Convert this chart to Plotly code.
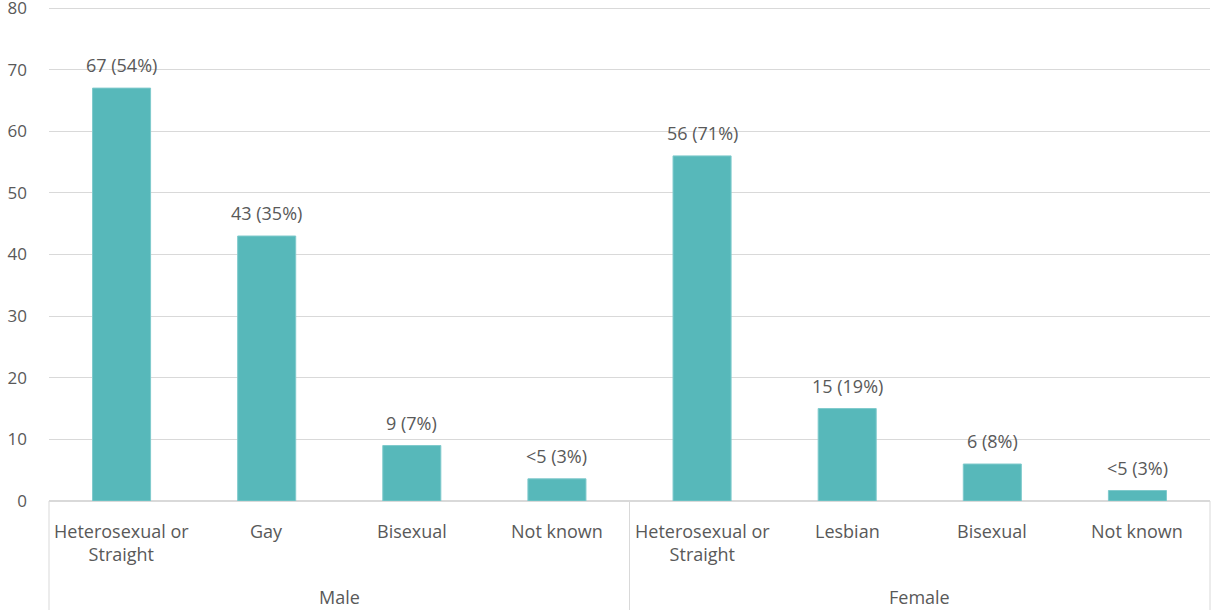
import plotly.graph_objects as go

groups = ["Male", "Female"]
categories = ["Heterosexual or<br>Straight", "Gay", "Bisexual", "Not known",
              "Heterosexual or<br>Straight", "Lesbian", "Bisexual", "Not known"]
group_of = ["Male"] * 4 + ["Female"] * 4
values = [67, 43, 9, 3.6, 56, 15, 6, 1.7]
bar_labels = ["67 (54%)", "43 (35%)", "9 (7%)", "&lt;5 (3%)",
              "56 (71%)", "15 (19%)", "6 (8%)", "&lt;5 (3%)"]
y_ticks = [0, 10, 20, 30, 40, 50, 60, 70, 80]

BAR = "#57B8BA"
TXT = "#595959"
GRID = "#D9D9D9"
FONT = "Open Sans"
FS = 18

x = list(range(len(categories)))

fig = go.Figure()
fig.add_trace(go.Bar(
    x=x, y=values, width=0.4,
    marker=dict(color=BAR, line=dict(color="#7FCACC", width=1)),
    hoverinfo="skip",
))

ann = []
for xi, v, lab in zip(x, values, bar_labels):
    ann.append(dict(x=xi, y=v, xref="x", yref="y", text=lab, showarrow=False,
                    yanchor="bottom", yshift=9,
                    font=dict(family=FONT, size=FS, color=TXT)))
for xi, c in zip(x, categories):
    ann.append(dict(x=xi, y=0, xref="x", yref="y", text=c, showarrow=False,
                    yanchor="top", yshift=-16,
                    font=dict(family=FONT, size=FS, color=TXT)))

n = len(categories)
shapes = []
start = 0
bounds = [0]
for g in groups:
    cnt = group_of.count(g)
    center = start + (cnt - 1) / 2
    ann.append(dict(x=center, y=0, xref="x", yref="y", text=g, showarrow=False,
                    yanchor="middle", yshift=-96,
                    font=dict(family=FONT, size=FS, color=TXT)))
    start += cnt
    bounds.append(start)
for b in bounds:
    shapes.append(dict(type="line", xref="paper", yref="paper",
                       x0=b / n, x1=b / n, y0=0, y1=-0.25,
                       line=dict(color=GRID, width=1)))

fig.update_layout(
    width=1211, height=610,
    margin=dict(l=49, r=1, t=4, b=109, autoexpand=False),
    paper_bgcolor="white", plot_bgcolor="white",
    showlegend=False,
    annotations=ann, shapes=shapes,
    font=dict(family=FONT, size=FS, color=TXT),
    xaxis=dict(range=[-0.5, n - 0.5], showticklabels=False, showgrid=False,
               zeroline=False, showline=True, linecolor=GRID, linewidth=1,
               ticks="", fixedrange=True, automargin=False),
    yaxis=dict(range=[0, 80.65], tickvals=y_ticks, showgrid=True, gridcolor=GRID,
               gridwidth=1, zeroline=True, zerolinecolor=GRID, showline=False,
               ticks="", ticklabelstandoff=21, ticklabeloverflow="allow",
               automargin=False,
               tickfont=dict(family=FONT, size=17, color=TXT), fixedrange=True),
)

fig.write_html("out.html")
